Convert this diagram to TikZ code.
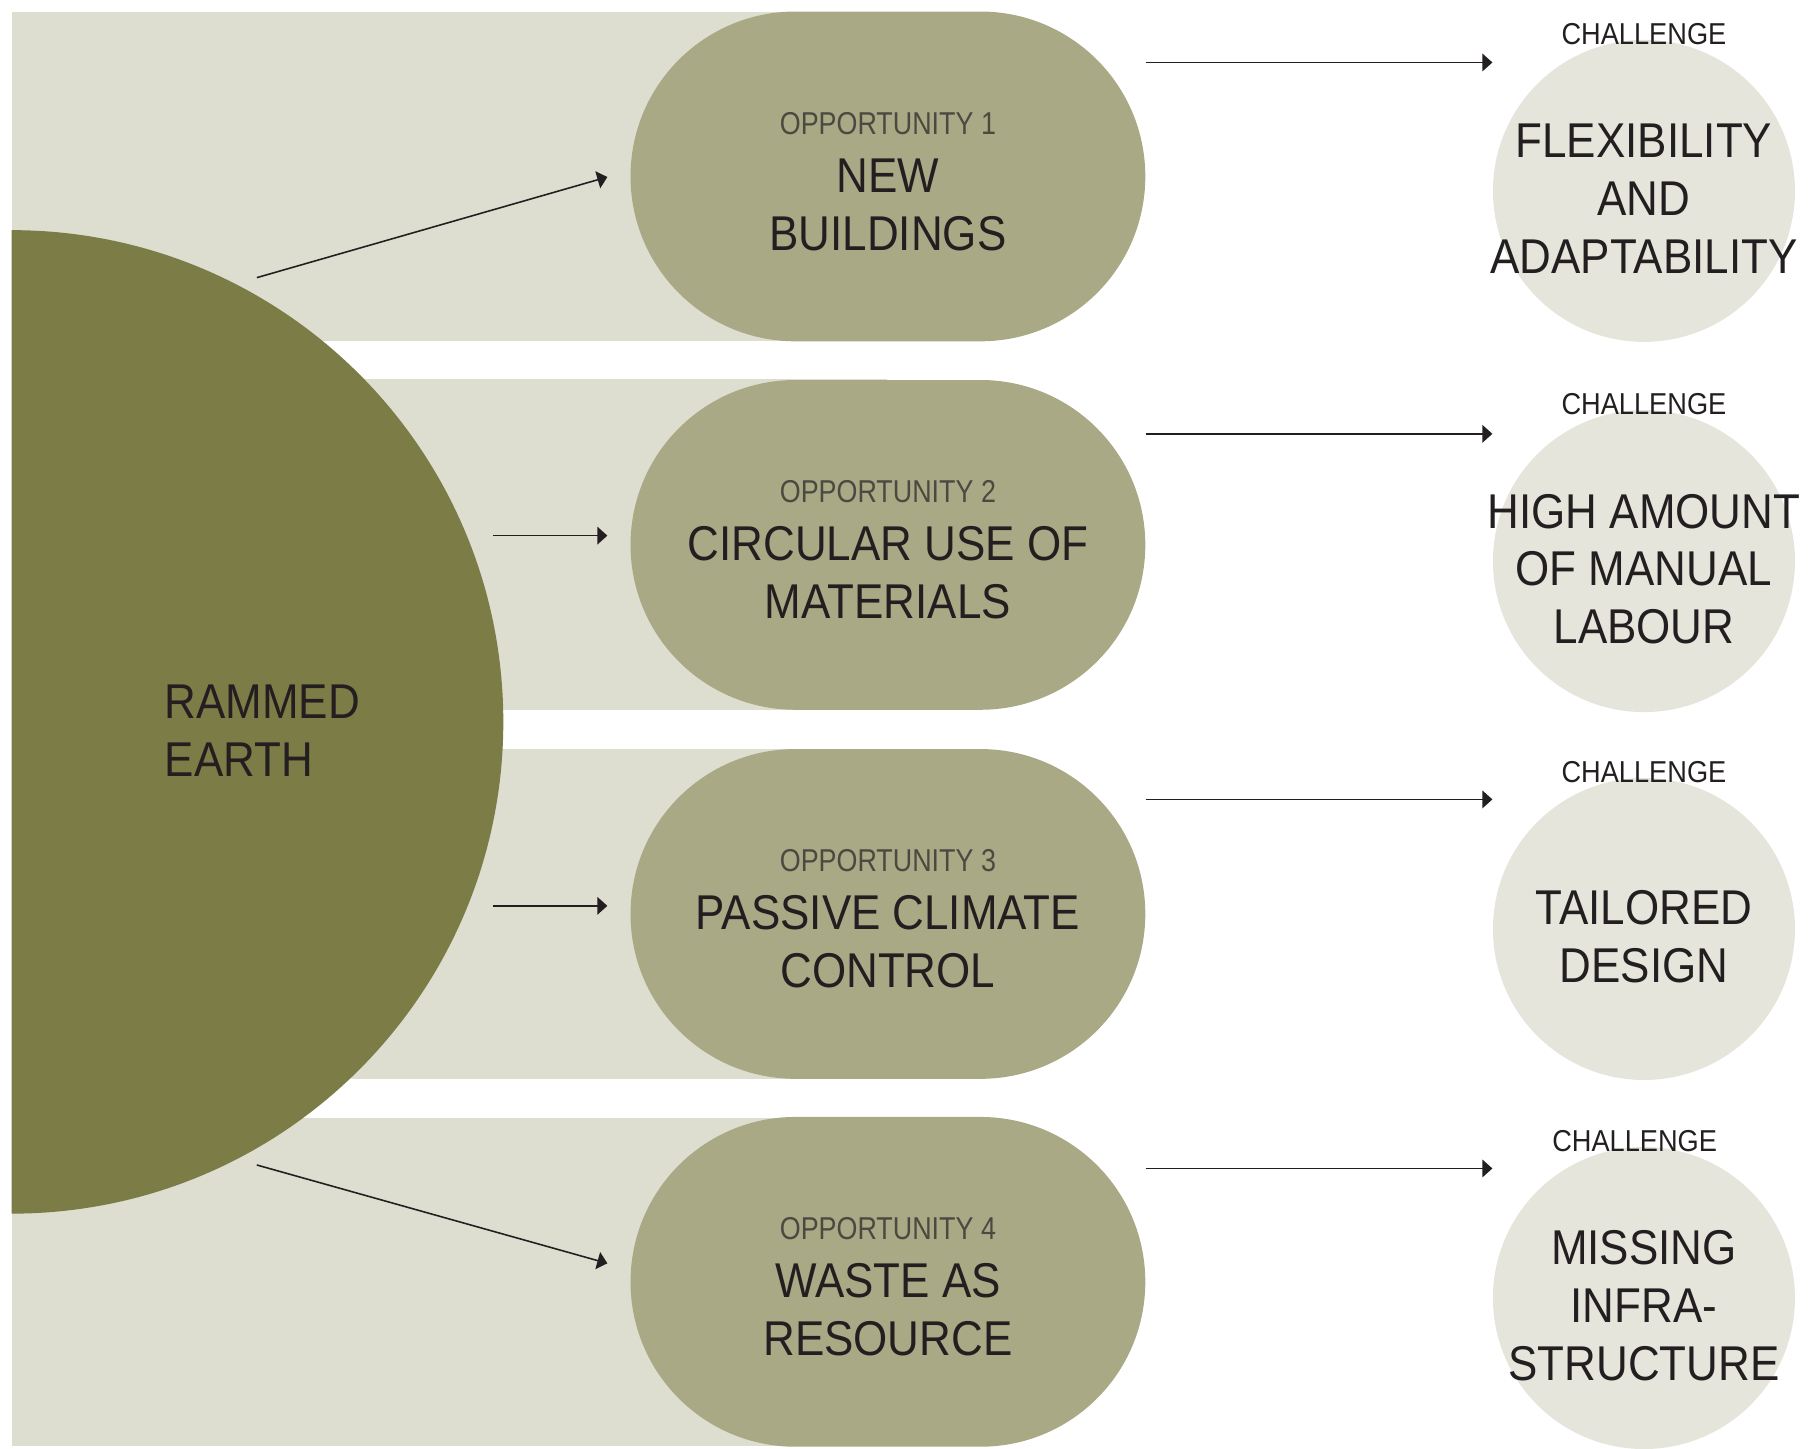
\documentclass[tikz,border=0pt]{standalone}
\usepackage{fontspec}
\setmainfont{Liberation Sans}[FakeStretch=0.9]
\newfontfamily\oppfont{Liberation Sans}[FakeStretch=0.85]
\usepackage{tikz}
\usetikzlibrary{arrows.meta}
\definecolor{earth}{HTML}{7C7C47}
\definecolor{band}{HTML}{DDDED0}
\definecolor{pillcol}{HTML}{A9A986}
\definecolor{chalcol}{HTML}{E5E5DC}
\definecolor{ink}{HTML}{231F20}
\definecolor{oppgray}{HTML}{4A4A40}
\newcommand{\bigtxt}{\fontsize{27.8}{33}\selectfont}
\newcommand{\opptxt}[1]{{\oppfont\fontsize{18}{33}\selectfont\color{oppgray}\rule{0pt}{18.4pt}#1}}

\begin{document}
\begin{tikzpicture}[x=0.6585pt,y=-0.6585pt,
	pill/.style={fill=pillcol,minimum width=293pt,minimum height=187.7pt,rounded corners=93.8pt,inner sep=0pt,align=center,text=ink,font=\bigtxt},
	chal/.style={circle,fill=chalcol,minimum size=171.9pt,inner sep=0pt},
	chaltext/.style={align=center,text=ink,font=\bigtxt,yshift=-4.6pt},
	chalhead/.style={text=ink,font=\fontsize{17.2}{20}\selectfont,yshift=3.3pt},
	arr/.style={-{Triangle[length=5.7pt,width=10pt]},line width=0.9pt,draw=ink}]
	\useasboundingbox (0,0) rectangle (1568,1252);
	
	% light bands behind the opportunities
	\fill[band] (10,10) rectangle (767,295);
	\fill[band] (10,328) rectangle (767,614);
	\fill[band] (10,647) rectangle (767,933);
	\fill[band] (10,966) rectangle (767,1250);
	
	% rammed earth half disc
	\begin{scope}
		\clip (10,190) rectangle (450,1060);
		\fill[earth] (10,624) circle[radius=279.9pt];
	\end{scope}
	\node[anchor=west,align=left,text=ink,font=\bigtxt] (earthtxt) at (137,632) {RAMMED\\EARTH};
	
	% opportunities
	\node[pill] (p1) at (767.5,152.5) {\opptxt{OPPORTUNITY 1}\\NEW\\BUILDINGS};
	\node[pill] (p2) at (767.5,471) {\opptxt{OPPORTUNITY 2}\\CIRCULAR USE OF\\MATERIALS};
	\node[pill] (p3) at (767.5,790) {\opptxt{OPPORTUNITY 3}\\PASSIVE CLIMATE\\CONTROL};
	\node[pill] (p4) at (767.5,1108) {\opptxt{OPPORTUNITY 4}\\WASTE AS\\RESOURCE};
	
	% challenges
	\node[chal] (c1) at (1421,165) {};
	\node[chal] (c2) at (1421,485) {};
	\node[chal] (c3) at (1421,803) {};
	\node[chal] (c4) at (1421,1122) {};
	\node[chalhead] (h1) at (c1.north) {CHALLENGE};
	\node[chalhead] (h2) at (c2.north) {CHALLENGE};
	\node[chalhead] (h3) at (c3.north) {CHALLENGE};
	\node[chalhead,xshift=-5.3pt] (h4) at (c4.north) {CHALLENGE};
	\node[chaltext] (t1) at (c1) {FLEXIBILITY\\AND\\ADAPTABILITY};
	\node[chaltext] (t2) at (c2) {HIGH AMOUNT\\OF MANUAL\\LABOUR};
	\node[chaltext] (t3) at (c3) {TAILORED\\DESIGN};
	\node[chaltext] (t4) at (c4) {MISSING\\INFRA-\\STRUCTURE};
	
	% arrows out of the disc
	\coordinate (s1) at (222,240);
	\coordinate (s2) at (426,463);
	\coordinate (s3) at (426,783);
	\coordinate (s4) at (222,1007);
	\coordinate (a1) at (525,153);
	\coordinate (a2) at (525,463);
	\coordinate (a3) at (525,783);
	\coordinate (a4) at (525,1092);
	\draw[arr] (s1) -- (a1);
	\draw[arr] (s2) -- (a2);
	\draw[arr] (s3) -- (a3);
	\draw[arr] (s4) -- (a4);
	
	% arrows to the challenges
	\coordinate (e1) at (1290,54);
	\coordinate (e2) at (1290,375);
	\coordinate (e3) at (1290,691);
	\coordinate (e4) at (1290,1010);
	\draw[arr] (p1.east |- e1) -- (e1);
	\draw[arr] (p2.east |- e2) -- (e2);
	\draw[arr] (p3.east |- e3) -- (e3);
	\draw[arr] (p4.east |- e4) -- (e4);
\end{tikzpicture}
\end{document}
